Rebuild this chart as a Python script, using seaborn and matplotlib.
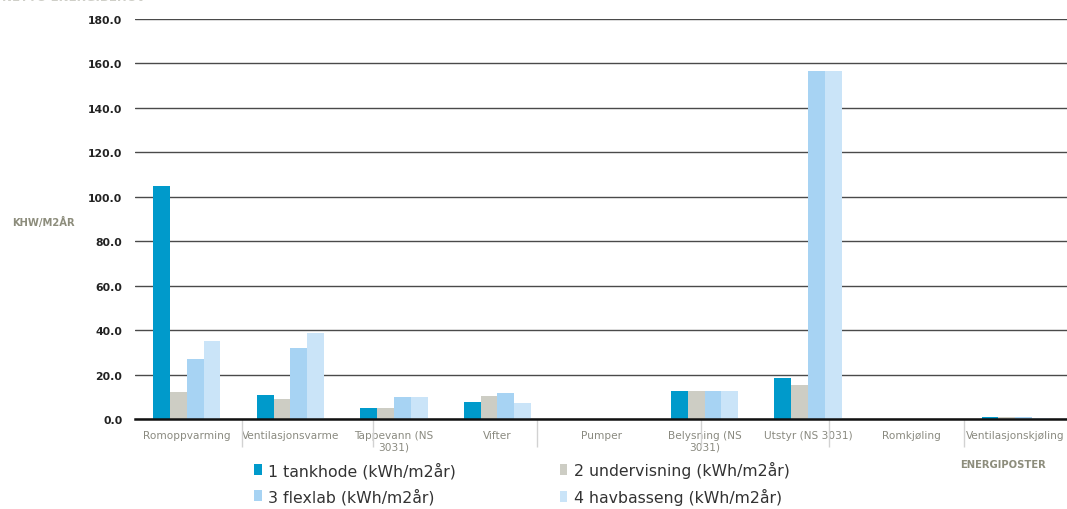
import matplotlib
matplotlib.use("Agg")
import matplotlib.pyplot as plt
import seaborn as sns
import pandas as pd
from matplotlib.ticker import FixedLocator, FormatStrFormatter

categories = [
    "Romoppvarming", "Ventilasjonsvarme", "Tappevann (NS\n3031)", "Vifter",
    "Pumper", "Belysning (NS\n3031)", "Utstyr (NS 3031)", "Romkjøling",
    "Ventilasjonskjøling",
]
series = [
    "1 tankhode (kWh/m2år)", "2 undervisning (kWh/m2år)",
    "3 flexlab (kWh/m2år)", "4 havbasseng (kWh/m2år)",
]
tankhode = [105.0, 11.0, 5.0, 7.5, 0.0, 12.6, 18.6, 0.0, 1.0]
undervisning = [12.0, 9.0, 5.0, 10.5, 0.0, 12.6, 15.5, 0.0, 0.7]
flexlab = [26.8, 32.0, 10.0, 11.5, 0.0, 12.6, 156.5, 0.0, 0.7]
havbasseng = [35.0, 38.8, 10.0, 7.0, 0.0, 12.6, 156.5, 0.0, 0.5]
yticks = [0, 20, 40, 60, 80, 100, 120, 140, 160, 180]

colors = ["#009ACB", "#CDCDC4", "#A7D3F3", "#CAE4F8"]

rows = []
for name, vals in zip(series, [tankhode, undervisning, flexlab, havbasseng]):
    for cat, v in zip(categories, vals):
        rows.append({"kategori": cat, "serie": name, "verdi": v})
df = pd.DataFrame(rows)

sns.set_theme(style="white")
plt.rcParams["font.family"] = ["DejaVu Sans"]

fig = plt.figure(figsize=(10.67, 5.10), dpi=100)
ax = fig.add_axes([135 / 1067, 1 - 420 / 510, 1 - 135 / 1067, 400 / 510])

sns.barplot(data=df, x="kategori", y="verdi", hue="serie", order=categories,
            hue_order=series, palette=colors, width=0.65, gap=0,
            saturation=1, linewidth=0, ax=ax, legend=True)

ax.set_ylim(0, 180)
ax.set_xlim(-0.5, len(categories) - 0.5)
ax.yaxis.set_major_locator(FixedLocator(yticks))
ax.yaxis.set_major_formatter(FormatStrFormatter("%.1f"))
ax.grid(axis="y", color="#4a4a4a", linewidth=1.0, zorder=0)
ax.set_axisbelow(True)
for side in ["top", "right", "left"]:
    ax.spines[side].set_visible(False)
ax.spines["bottom"].set_color("#111111")
ax.spines["bottom"].set_linewidth(1.8)
ax.spines["bottom"].set_zorder(1)

ax.tick_params(axis="y", length=0, pad=9, labelsize=7.8, labelcolor="#222222")
for t in ax.get_yticklabels():
    t.set_fontweight("bold")
ax.tick_params(axis="x", which="major", length=0, pad=8, labelsize=7.6,
               labelcolor="#8a8a80")
for t in ax.get_xticklabels():
    t.set_multialignment("center")

# light separators below the axis
ax.xaxis.set_minor_locator(FixedLocator([0.53, 1.80, 3.38, 4.97, 6.20, 7.51]))
ax.tick_params(axis="x", which="minor", bottom=True, length=20, width=1.0,
               color="#d2d2d2", direction="out")

ax.set_xlabel("")
ax.set_ylabel("")

fig.text(12 / 1067, 1 - 222 / 510, "KHW/M2ÅR", fontsize=7.2, fontweight="bold",
         color="#8d8d7c", va="center", ha="left")
fig.text(1003 / 1067, 1 - 465 / 510, "ENERGIPOSTER", fontsize=7.2,
         fontweight="bold", color="#8d8d7c", va="center", ha="center")
fig.text(2 / 1067, 1 + 9 / 510, "NETTO ENERGIBEHOV", fontsize=8.5,
         fontweight="bold", color="#cfcfc8", va="top", ha="left")

handles, labels = ax.get_legend_handles_labels()
ax.get_legend().remove()
order = [0, 2, 1, 3]
fig.legend([handles[i] for i in order], [labels[i] for i in order],
           ncol=2, loc="center left",
           bbox_to_anchor=(254 / 1067, 1 - 484 / 510), frameon=False,
           fontsize=11.3, labelcolor="#333333", handlelength=0.5,
           handleheight=0.7, handletextpad=0.4, columnspacing=6.6,
           labelspacing=0.62, borderaxespad=0, borderpad=0)

fig.savefig("out.png", dpi=100)
